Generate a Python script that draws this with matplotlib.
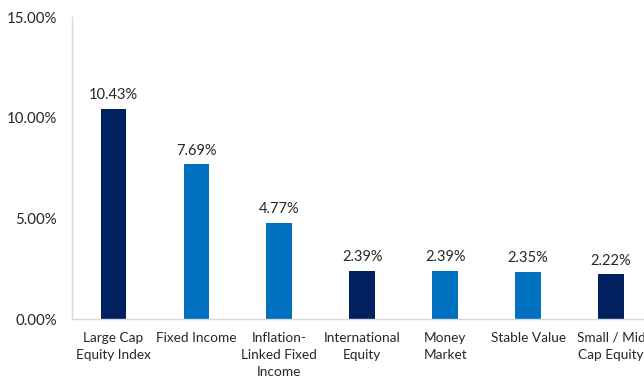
import matplotlib.pyplot as plt
from matplotlib.ticker import FuncFormatter

categories = ["Large Cap\nEquity Index", "Fixed Income", "Inflation-\nLinked Fixed\nIncome",
              "International\nEquity", "Money\nMarket", "Stable Value", "Small / Mid\nCap Equity"]
returns = [10.43, 7.69, 4.77, 2.39, 2.39, 2.35, 2.22]
colors = ["#002060", "#0070C0", "#0070C0", "#002060", "#0070C0", "#0070C0", "#002060"]

plt.rcParams['font.family'] = ['Lato', 'DejaVu Sans']

fig = plt.figure(figsize=(6.44, 3.78), dpi=100)
ax = fig.add_axes([0.1118, 0.156, 0.9014, 0.799])

x = list(range(len(categories)))
ax.bar(x, returns, width=0.31, color=colors)

for xi, v in zip(x, returns):
    ax.text(xi, v + 0.33, '{:.2f}%'.format(v), ha='center', va='bottom',
            fontsize=10.5, color='#262626')

ax.set_xlim(-0.5, 6.5)
ax.set_ylim(0, 15)
ax.set_yticks([0, 5, 10, 15])
ax.yaxis.set_major_formatter(FuncFormatter(lambda v, p: '{:.2f}%'.format(v)))
ax.set_xticks(x)
ax.set_xticklabels(categories, fontsize=9.8, color='#262626', linespacing=1.5)
ax.tick_params(axis='y', labelsize=10.8, labelcolor='#262626', length=0, pad=11)
ax.tick_params(axis='x', length=0, pad=9)

for s in ['top', 'right']:
    ax.spines[s].set_visible(False)
for s in ['left', 'bottom']:
    ax.spines[s].set_color('#D9D9D9')
    ax.spines[s].set_linewidth(1.0)

fig.savefig('out.png', dpi=100)
